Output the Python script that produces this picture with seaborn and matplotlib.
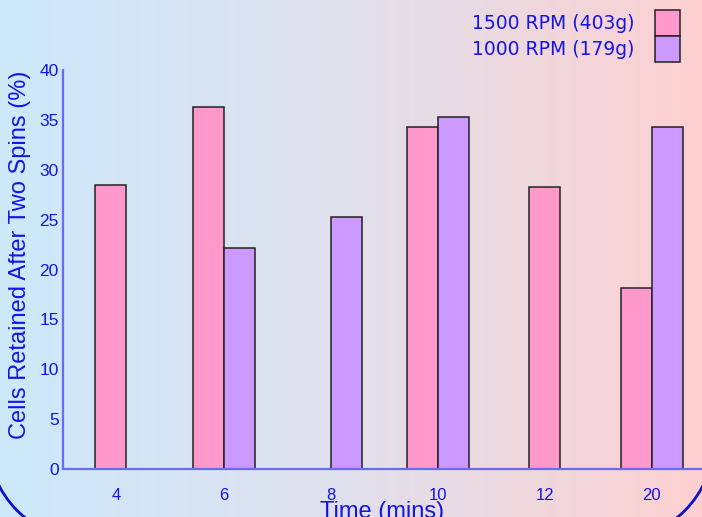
import numpy as np
import pandas as pd
import matplotlib
matplotlib.use("Agg")
import matplotlib.pyplot as plt
import matplotlib.patches as mpatches
import matplotlib.transforms as mtransforms
from matplotlib.colors import LinearSegmentedColormap
import seaborn as sns

# data
times = ["4", "6", "8", "10", "12", "20"]
rpm_1500 = [28.5, 36.3, np.nan, 34.3, 28.3, 18.1]
rpm_1000 = [np.nan, 22.2, 25.3, 35.3, np.nan, 34.3]
series = ["1500 RPM (403g)", "1000 RPM (179g)"]
colors = ["#ff99cc", "#cc99ff"]

text_blue = "#1414e6"
axis_blue = "#6a6af5"

df = pd.DataFrame({"time": times, series[0]: rpm_1500, series[1]: rpm_1000})
df = df.melt(id_vars="time", var_name="speed", value_name="cells").dropna()

sns.set_style("white")
plt.rcParams["font.family"] = ["Liberation Sans", "DejaVu Sans"]

fig = plt.figure(figsize=(7.02, 5.17), dpi=100)

# gradient background
bg = fig.add_axes([0, 0, 1, 1], zorder=-10)
grad = LinearSegmentedColormap.from_list("bg", ["#cce9fb", "#e0e0ec", "#fdd0d0"])
bg.imshow(np.linspace(0, 1, 256).reshape(1, -1), aspect="auto", cmap=grad,
          extent=[0, 1, 0, 1])
bg.set_axis_off()

ax = fig.add_axes([63 / 702, 1 - 469 / 517, 1 - 63 / 702, 399 / 517])
ax.set_facecolor("none")

sns.barplot(data=df, x="time", y="cells", hue="speed", order=times,
            hue_order=series, palette=colors, width=0.58, dodge=True,
            saturation=1, edgecolor="#222222", linewidth=1.1, ax=ax)

# single bars sit nearer the middle of their slot in the original
solo_shift = {"4": 0.09, "12": 0.145}
pink_times = [t for t, v in zip(times, rpm_1500) if not np.isnan(v)]
for bar, t in zip(ax.containers[0], pink_times):
    if t in solo_shift:
        bar.set_x(bar.get_x() + solo_shift[t])

ax.set_xlim(-0.5, 5.47)
ax.set_ylim(0, 40)
ax.set_yticks(range(0, 41, 5))
ax.set_xticks(np.arange(-0.5, 5.5, 1), minor=True)

for s in ["top", "right"]:
    ax.spines[s].set_visible(False)
for s in ["left", "bottom"]:
    ax.spines[s].set_color(axis_blue)
    ax.spines[s].set_linewidth(1.6)

ax.tick_params(axis="y", which="major", length=3, width=0.8, color="black",
               direction="out", pad=0, labelsize=12.5, labelcolor=text_blue)
ax.tick_params(axis="x", which="major", length=0, pad=14, labelsize=12,
               labelcolor=text_blue)
ax.tick_params(axis="x", which="minor", length=4, width=0.8, color="black",
               direction="out")

ax.set_xlabel("Time (mins)", fontsize=17, color=text_blue, labelpad=-2)
ax.set_ylabel("Cells Retained After Two Spins (%)", fontsize=17,
              color=text_blue)
ax.yaxis.set_label_coords(-0.05, 0.537)

handles, labels = ax.get_legend_handles_labels()
if ax.legend_:
    ax.legend_.remove()
leg = fig.legend(handles, labels, loc="upper right",
                 bbox_to_anchor=(689 / 702, 1 - 1 / 517), frameon=False,
                 markerfirst=False, handlelength=1.33, handleheight=1.75,
                 labelspacing=0.0, handletextpad=1.1, borderpad=0,
                 prop={"family": "DejaVu Sans", "size": 13.5})
for t in leg.get_texts():
    t.set_color(text_blue)

# rounded slide frame peeking in at the bottom corners (pixel coords)
ident = mtransforms.IdentityTransform()
fig.patches.append(mpatches.Arc((88, 77), 200, 200, theta1=180, theta2=270,
                                transform=ident, color="#1010c8", lw=2))
fig.patches.append(mpatches.Arc((614, 77), 200, 200, theta1=270, theta2=360,
                                transform=ident, color="#1010c8", lw=2))

fig.savefig("out.png", dpi=100)
